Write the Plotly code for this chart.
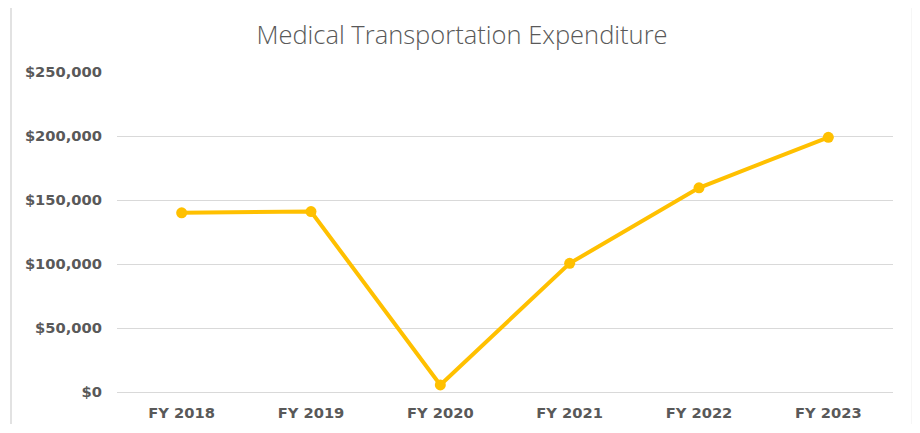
import plotly.graph_objects as go

categories = ["FY 2018", "FY 2019", "FY 2020", "FY 2021", "FY 2022", "FY 2023"]
expenditure = [140000, 141000, 5500, 100500, 159500, 199000]
y_ticks = [0, 50000, 100000, 150000, 200000, 250000]
y_tick_labels = ["$0", "$50,000", "$100,000", "$150,000", "$200,000", "$250,000"]

fig = go.Figure()
fig.add_trace(go.Scatter(
    x=categories, y=expenditure, mode="lines+markers",
    line=dict(color="#FFC000", width=4),
    marker=dict(color="#FFC000", size=11),
    hoverinfo="skip", showlegend=False,
))

# The page body has an 8px margin, so the figure is sized to fit the
# 920x433 window without scrollbars; positions below are figure pixels.
W, H = 911, 416
L, R, T, B = 109, 26, 64, 32
pw, ph = W - L - R, H - T - B

def px_x(v):
    return (v - L) / pw

def px_y(v):
    return (H - B - v) / ph

fig.add_shape(type="rect", xref="paper", yref="paper",
              x0=px_x(3), x1=px_x(904.5), y0=px_y(460), y1=px_y(-3.5),
              line=dict(color="#d9d9d9", width=1.5), fillcolor="rgba(0,0,0,0)",
              layer="below")

tick_font = dict(family="DejaVu Sans", size=14.7, color="#595959", weight="bold")

fig.update_layout(
    width=W, height=H,
    margin=dict(l=L, r=R, t=T, b=B, autoexpand=False),
    paper_bgcolor="white", plot_bgcolor="white",
    title=dict(text="Medical Transportation Expenditure", x=454 / W, xref="container",
               xanchor="center", y=1 - 27 / H, yanchor="middle",
               font=dict(family="Open Sans", size=25.5, color="#595959", weight=300)),
    xaxis=dict(showgrid=False, showline=False, zeroline=False, ticks="",
               range=[-0.5, 5.5], tickfont=tick_font, ticklabelstandoff=10,
               automargin=False),
    yaxis=dict(range=[0, 250000], tickvals=y_ticks, ticktext=y_tick_labels,
               showgrid=True, gridcolor="#d9d9d9", gridwidth=1,
               zeroline=True, zerolinecolor="#d9d9d9", zerolinewidth=1,
               showline=False, ticks="", tickfont=tick_font,
               ticklabelstandoff=14, automargin=False),
)

fig.write_html("out.html")
